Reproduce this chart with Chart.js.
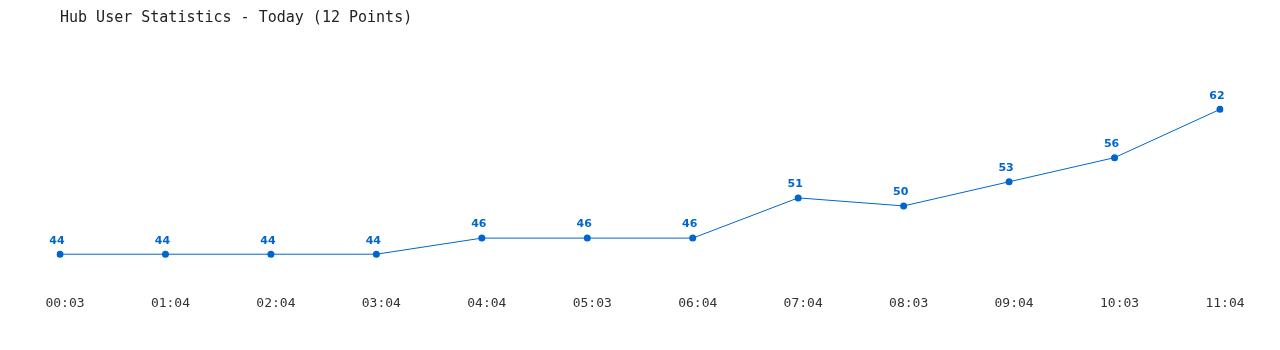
<!DOCTYPE html>
<html>
<head>
<meta charset="utf-8">
<script src="https://cdn.jsdelivr.net/npm/chart.js@4"></script>
<style>
html,body{margin:0;padding:0;background:#fff;}
#wrap{width:1280px;height:350px;position:relative;}
</style>
</head>
<body>
<div id="wrap"><canvas id="c" width="1280" height="350"></canvas></div>
<script>
const titleText = "Hub User Statistics - Today (12 Points)";
const categories = ["00:03","01:04","02:04","03:04","04:04","05:03","06:04","07:04","08:03","09:04","10:03","11:04"];
const users = [44,44,44,44,46,46,46,51,50,53,56,62];
const yMin = 40;
const yMax = 70;

const lineColor = "#0066cc";
const monoFont = "'DejaVu Sans Mono', 'Liberation Mono', monospace";

const valueLabels = {
  id: 'valueLabels',
  afterDatasetsDraw(chart) {
    const ctx = chart.ctx;
    const meta = chart.getDatasetMeta(0);
    ctx.save();
    ctx.font = "bold 11px 'DejaVu Sans', Verdana, sans-serif";
    ctx.fillStyle = lineColor;
    ctx.textAlign = 'center';
    ctx.textBaseline = 'bottom';
    meta.data.forEach((pt, i) => {
      ctx.fillText(String(chart.data.datasets[0].data[i]), pt.x - 3, pt.y - 8);
    });
    ctx.restore();
  }
};

new Chart(document.getElementById('c'), {
  type: 'line',
  data: {
    labels: categories,
    datasets: [{
      data: users,
      borderColor: lineColor,
      backgroundColor: lineColor,
      borderWidth: 1,
      pointRadius: 3.5,
      pointHoverRadius: 3.5,
      pointBackgroundColor: lineColor,
      pointBorderWidth: 0,
      tension: 0,
      fill: false
    }]
  },
  options: {
    responsive: false,
    animation: false,
    devicePixelRatio: 1,
    layout: { padding: { left: 60, right: 60, top: 9, bottom: 30 } },
    plugins: {
      legend: { display: false },
      tooltip: { enabled: false },
      title: {
        display: true,
        text: titleText,
        align: 'start',
        color: '#222',
        font: { family: monoFont, size: 15, weight: 'normal', lineHeight: 1.2 },
        padding: { top: 0, bottom: 18 }
      }
    },
    scales: {
      x: {
        offset: false,
        grid: { display: false, drawTicks: false },
        border: { display: false },
        ticks: { color: '#333', font: { family: monoFont, size: 13 }, padding: 9, labelOffset: 5, maxRotation: 0, autoSkip: false }
      },
      y: {
        display: false,
        min: yMin,
        max: yMax
      }
    }
  },
  plugins: [valueLabels]
});
</script>
</body>
</html>
